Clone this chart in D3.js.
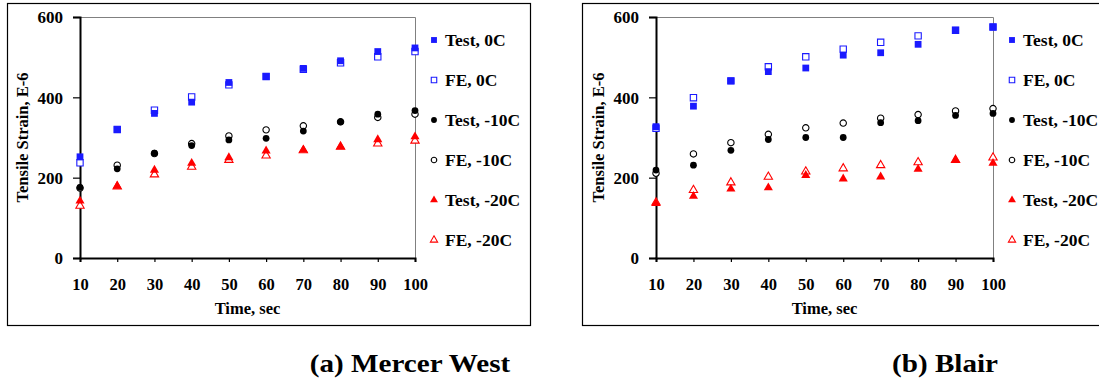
<!DOCTYPE html>
<html>
<head>
<meta charset="utf-8">
<script src="https://cdn.jsdelivr.net/npm/d3@7"></script>
<style>
  html, body { margin: 0; padding: 0; background: #fff; }
  svg { display: block; }
</style>
</head>
<body>
<svg id="chart" width="1099" height="381"></svg>
<script>
// Time steps (sec) shared by all series
const times = [10, 20, 30, 40, 50, 60, 70, 80, 90, 100];
const xTicks = [10, 20, 30, 40, 50, 60, 70, 80, 90, 100];
const yTicks = [0, 200, 400, 600];

// Mercer West tensile strain (E-6)
const mercerTest0 = [252, 320, 360, 388, 437, 452, 472, 491, 514, 523];
const mercerFE0 = [237, 320, 368, 401, 431, 452, 470, 486, 501, 514];
const mercerTest10 = [176, 222, 261, 280, 294, 298, 316, 339, 358, 367];
const mercerFE10 = [174, 231, 260, 285, 304, 319, 329, 339, 350, 358];
const mercerTest20 = [142, 179, 219, 236, 250, 267, 269, 277, 295, 302];
const mercerFE20 = [130, 178, 208, 227, 244, 255, 268, 277, 285, 292];

// Blair tensile strain (E-6)
const blairTest0 = [327, 378, 441, 464, 473, 505, 511, 532, 567, 575];
const blairFE0 = [323, 399, 441, 476, 501, 520, 537, 553, 567, 575];
const blairTest10 = [219, 231, 268, 295, 300, 300, 337, 342, 355, 360];
const blairFE10 = [211, 259, 287, 308, 324, 336, 348, 357, 366, 372];
const blairTest20 = [136, 154, 172, 175, 206, 197, 202, 221, 244, 236];
const blairFE20 = [138, 169, 188, 202, 215, 223, 231, 238, 244, 250];

const seriesNames = ["Test, 0C", "FE, 0C", "Test, -10C", "FE, -10C", "Test, -20C", "FE, -20C"];
const captions = ["(a) Mercer West", "(b) Blair"];

const FONT = "'Liberation Serif', 'Times New Roman', 'DejaVu Serif', serif";
const BLUE = "#1a1aff", RED = "#ff0000", BLACK = "#000";
const styles = [
  { shape: d3.symbolSquare, size: 46, color: BLUE, filled: true },
  { shape: d3.symbolSquare, size: 40, color: BLUE, filled: false },
  { shape: d3.symbolCircle, size: 36, color: BLACK, filled: true },
  { shape: d3.symbolCircle, size: 32, color: BLACK, filled: false },
  { shape: d3.symbolTriangle, size: 36, color: RED, filled: true },
  { shape: d3.symbolTriangle, size: 30, color: RED, filled: false }
];

const panels = [
  { frame: [7, 3, 523, 322], plot: [80, 17, 415, 258], titleX: 22, legendX: 434,
    caption: captions[0], captionX: 410,
    series: [mercerTest0, mercerFE0, mercerTest10, mercerFE10, mercerTest20, mercerFE20] },
  { frame: [582, 3, 530, 322], plot: [656, 17, 993, 258], titleX: 598, legendX: 1012,
    caption: captions[1], captionX: 945,
    series: [blairTest0, blairFE0, blairTest10, blairFE10, blairTest20, blairFE20] }
];

const svg = d3.select("#chart").attr("font-family", FONT);

panels.forEach(p => {
  const [fx, fy, fw, fh] = p.frame;
  const [x0, y0, x1, y1] = p.plot;
  const g = svg.append("g");

  // outer frame
  g.append("rect").attr("x", fx + 0.5).attr("y", fy + 0.5).attr("width", fw).attr("height", fh)
    .attr("fill", "none").attr("stroke", "#000").attr("stroke-width", 1.2);

  const x = d3.scaleLinear().domain([10, 100]).range([x0, x1]);
  const y = d3.scaleLinear().domain([0, 600]).range([y1, y0]);

  // plot area border (top and right)
  g.append("path").attr("d", `M${x0},${y0 + 0.5}H${x1 + 0.5}V${y1}`)
    .attr("fill", "none").attr("stroke", "#808080").attr("stroke-width", 1);

  // y axis
  const yAxis = g.append("g").attr("transform", `translate(${x0},0)`)
    .call(d3.axisLeft(y).tickValues(yTicks).tickSize(7).tickPadding(10).tickFormat(d3.format("d")));
  yAxis.select(".domain").attr("stroke-width", 2);
  yAxis.selectAll(".tick line").attr("stroke-width", 1.2);
  yAxis.selectAll("text").style("font-size", "17px").attr("dy", "0.35em");

  // x axis
  const xAxis = g.append("g").attr("transform", `translate(0,${y1})`)
    .call(d3.axisBottom(x).tickValues(xTicks).tickSize(4).tickPadding(16));
  xAxis.select(".domain").attr("stroke-width", 2);
  xAxis.selectAll(".tick line").attr("stroke-width", 1.2);
  xAxis.selectAll("text").style("font-size", "16.5px");

  // axis titles
  g.append("text").attr("x", (x0 + x1) / 2).attr("y", y1 + 56)
    .attr("text-anchor", "middle").style("font-size", "16.5px").text("Time, sec");
  g.append("text").attr("transform", `translate(${p.titleX},${(y0 + y1) / 2}) rotate(-90)`)
    .attr("text-anchor", "middle").attr("dy", "0.35em").style("font-size", "16.5px")
    .text("Tensile Strain, E-6");

  // series markers; FE points first so test points sit on top
  const order = [1, 0, 3, 2, 5, 4];
  order.forEach(si => {
    const st = styles[si];
    const sym = d3.symbol().type(st.shape).size(st.size);
    g.append("g").selectAll("path").data(p.series[si].map((v, i) => [times[i], v]))
      .join("path")
      .attr("transform", d => `translate(${x(d[0])},${y(d[1])})`)
      .attr("d", sym)
      .attr("fill", st.filled ? st.color : "#fff")
      .attr("stroke", st.color)
      .attr("stroke-width", st.filled ? 0 : 1.1);
  });

  // legend
  seriesNames.forEach((name, si) => {
    const st = styles[si];
    const ly = 40 + si * 40;
    g.append("path").attr("transform", `translate(${p.legendX},${ly})`)
      .attr("d", d3.symbol().type(st.shape).size(st.size * 0.75))
      .attr("fill", st.filled ? st.color : "#fff")
      .attr("stroke", st.color).attr("stroke-width", st.filled ? 0 : 1.1);
    g.append("text").attr("x", p.legendX + 11).attr("y", ly).attr("dy", "0.35em")
      .style("font-size", "17.5px").text(name);
  });

  // caption
  g.append("text").attr("transform", `translate(${p.captionX},372) scale(1.12,1)`)
    .attr("text-anchor", "middle").style("font-size", "26px").text(p.caption);
});

svg.selectAll("text")
  .style("font-family", FONT)
  .style("font-weight", "bold")
  .attr("fill", "#000");
</script>
</body>
</html>
